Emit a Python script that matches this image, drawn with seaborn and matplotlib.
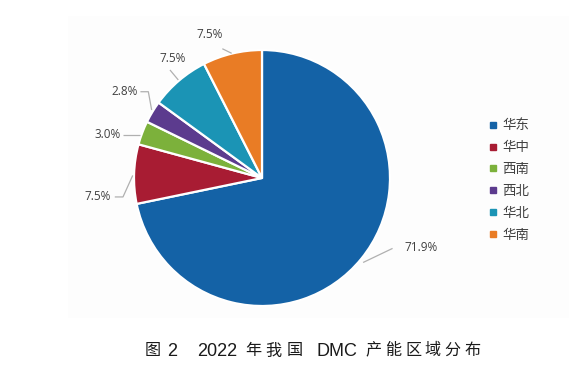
import matplotlib
matplotlib.use("Agg")
import matplotlib.pyplot as plt
import seaborn as sns
from matplotlib.lines import Line2D
from matplotlib.patches import Rectangle

# ---- data ----
regions = ["华东", "华中", "西南", "西北", "华北", "华南"]
shares = [71.9, 7.5, 3.0, 2.8, 7.5, 7.5]
colors = ["#1462a6", "#a81c33", "#7cb13b", "#5c3b8e", "#1b94b5", "#e97c25"]
caption_parts = ["图", "2", "2022", "年", "我", "国", "DMC", "产", "能", "区", "域", "分", "布"]

# ---- layout (not data) ----
label_pos = [(1.115, -0.54, "left"), (-1.18, -0.148, "right"), (-1.10, 0.336, "right"),
             (-0.97, 0.674, "right"), (-0.70, 0.93, "center"), (-0.41, 1.12, "center")]
leaders = [[(0.79, -0.66), (1.02, -0.55)],
           [(-1.01, 0.02), (-1.086, -0.148), (-1.15, -0.148)],
           [(-0.953, 0.336), (-1.086, 0.336)],
           [(-0.862, 0.531), (-0.888, 0.674), (-0.95, 0.674)],
           [(-0.654, 0.766), (-0.719, 0.844)],
           [(-0.237, 0.974), (-0.31, 1.01)]]
caption_x = [152.5, 172, 217.5, 253.5, 273.5, 294.5, 337, 373.5, 393.5, 413.5, 432.5, 452.5, 472.5]

sns.set_theme(style="white")
plt.rcParams["font.family"] = ["Noto Sans CJK SC", "DejaVu Sans"]

W, H = 577, 371
fig = plt.figure(figsize=(W / 100, H / 100), dpi=100)
fig.patch.set_facecolor("white")

# faint chart-area background
fig.patches.append(Rectangle((68 / W, (H - 318) / H), 501 / W, 302 / H,
                             transform=fig.transFigure, facecolor="#fdfdfd",
                             edgecolor="none", zorder=-5))

# pie axes: center at (262,178) px from top, radius 128 px
R = 128.0
cx, cy = 262.0, H - 178.0
aw, ah = 400.0, 300.0
ax = fig.add_axes([(cx - aw / 2) / W, (cy - ah / 2) / H, aw / W, ah / H])
ax.set_zorder(2)
ax.set_facecolor("none")
ax.pie(shares, colors=colors, startangle=90, counterclock=False, radius=1.0,
       wedgeprops=dict(edgecolor="white", linewidth=1.6))
ax.set_xlim(-aw / 2 / R, aw / 2 / R)
ax.set_ylim(-ah / 2 / R, ah / 2 / R)
ax.set_aspect("equal")
ax.axis("off")

for v, (tx, ty, ha), pts in zip(shares, label_pos, leaders):
    xs = [p[0] for p in pts]
    ys = [p[1] for p in pts]
    ax.plot(xs, ys, color="#b0b0b0", lw=0.9, solid_capstyle="butt")
    ax.text(tx, ty, f"{v:.1f}%", ha=ha, va="center", fontsize=8.5,
            color="#404040", family=["Open Sans", "DejaVu Sans"])

# legend
handles = [Line2D([], [], linestyle="none", marker="s", markersize=4.2,
                  markerfacecolor=c, markeredgecolor=c) for c in colors]
fig.legend(handles, regions, loc="center left", bbox_to_anchor=(489 / W, (H - 180) / H),
           frameon=False, fontsize=9.7, labelcolor="#404040", handlelength=0.6,
           handletextpad=0.4, labelspacing=0.58, borderpad=0, borderaxespad=0)

# caption
for part, x in zip(caption_parts, caption_x):
    is_cjk = ord(part[0]) > 0x2E80
    fig.text(x / W, (H - 351) / H, part, ha="center", va="center",
             fontsize=11.6 if is_cjk else 13, color="#1a1a1a",
             family=["Noto Sans CJK SC"] if is_cjk else ["Liberation Sans", "DejaVu Sans"])

fig.savefig("out.png", dpi=100)
